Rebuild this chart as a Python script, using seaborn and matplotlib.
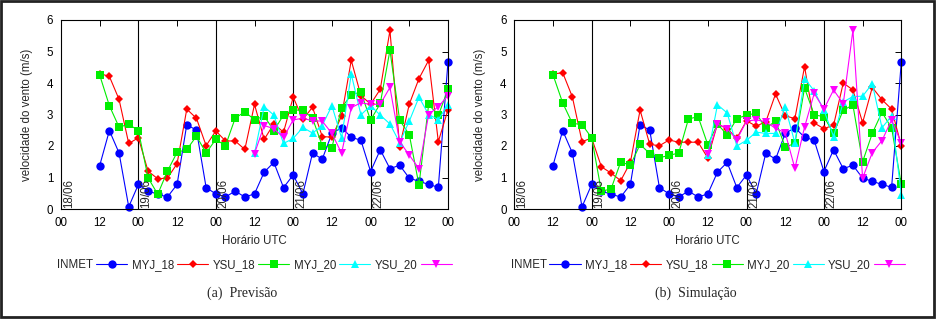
import numpy as np
import pandas as pd
import matplotlib
matplotlib.use('Agg')
import matplotlib.pyplot as plt
from matplotlib.patches import Rectangle
import seaborn as sns

# hours since 18/06 00 UTC, one value every 3 h
hours = list(range(12, 121, 3))
nan = np.nan

# observations (same in both panels)
inmet = [1.38, 2.49, 1.78, 0.07, 0.78, 0.57, 0.47, 0.38, 0.78, 2.68, 2.50, 0.68, 0.48,
         0.38, 0.57, 0.38, 0.48, 1.17, 1.48, 0.68, 1.08, 0.48, 1.78, 1.58, 2.40, 2.58,
         2.28, 2.18, 1.19, 1.88, 1.28, 1.39, 0.98, 0.88, 0.78, 0.69, 4.68]

# (a) Previsao
prev_myj18 = [4.30, 4.21, 3.48, 2.08, 2.26, 1.20, 0.96, 0.98, 1.44, 3.17, 2.88, 2.01, 2.48,
              2.16, 2.16, 1.89, 3.32, 2.21, 2.70, 2.44, 3.55, 2.85, 3.23, 2.30, 2.28, 2.95,
              4.72, 3.60, 3.33, 3.80, 5.67, 1.98, 3.33, 4.14, 4.72, 2.14, 3.15]
prev_ysu18 = [4.25, 3.28, 2.60, 2.69, 2.49, 0.99, 0.47, 1.20, 1.80, 1.89, 2.31, 1.78, 2.21,
              2.01, 2.88, 3.09, 2.83, 2.95, 2.49, 2.98, 3.14, 3.14, 2.88, 2.01, 1.95, 3.21,
              3.63, 3.71, 2.82, 3.35, 5.04, 2.82, 2.36, 0.76, 3.32, 2.97, 3.80]
prev_myj20 = [nan] * 16 + [1.77, 3.25, 2.98, 2.08, 2.24, 2.59, 2.41, 2.65, 3.28, 2.26, 4.28,
                           2.99, 3.28, 2.98, 2.70, 2.11, 2.79, 3.55, 3.00, 2.84, 3.31]
prev_ysu20 = [nan] * 16 + [1.76, 2.65, 2.55, 2.27, 2.83, 2.88, 2.80, 2.79, 2.40, 1.77, 3.22,
                           3.37, 3.32, 3.33, 3.86, 2.14, 1.71, 1.28, 3.00, 3.25, 3.60]

# (b) Simulacao
sim_myj18 = [4.28, 4.33, 3.56, 2.14, 2.25, 1.34, 1.14, 0.90, 1.48, 3.14, 2.05, 2.01, 2.19,
             2.12, 2.12, 2.12, 1.62, 2.70, 2.55, 2.25, 2.80, 2.63, 2.77, 3.65, 2.96, 2.87,
             4.52, 2.73, 2.55, 2.66, 4.00, 3.78, 2.74, 3.86, 3.47, 3.17, 2.01]
sim_ysu18 = [4.26, 3.37, 2.72, 2.68, 2.26, 0.56, 0.64, 1.49, 1.39, 2.05, 1.76, 1.63, 1.70,
             1.78, 2.86, 2.93, 2.04, 2.70, 2.35, 2.87, 2.98, 3.04, 2.56, 2.80, 1.97, 2.08,
             3.84, 2.99, 2.93, 2.40, 3.14, 3.30, 1.50, 2.40, 3.07, 2.57, 0.78]
sim_myj20 = [nan] * 16 + [1.72, 3.31, 3.05, 2.00, 2.18, 2.44, 2.40, 2.40, 3.24, 2.10, 4.14,
                          3.75, 3.14, 2.30, 3.40, 3.57, 3.58, 3.98, 2.58, 2.95, 0.46]
sim_ysu20 = [nan] * 16 + [1.76, 2.70, 2.55, 2.20, 2.79, 2.83, 2.77, 2.56, 2.42, 1.29, 2.60,
                          3.67, 3.17, 3.78, 3.34, 5.68, 0.98, 1.79, 2.17, 2.83, 2.10]

series_names = ['INMET', 'MYJ_18', 'YSU_18', 'MYJ_20', 'YSU_20']
colors = ['#0000ff', '#ff0000', '#00ee00', '#00ffff', '#ff00ff']
markers = ['o', 'D', 's', '^', 'v']
msizes = [6.0, 4.0, 5.6, 6.0, 6.0]

day_labels = ['18/06', '19/06', '20/06', '21/06', '22/06']
day_hours = [0, 24, 48, 72, 96]
xtick_hours = list(range(0, 121, 12))
xtick_labels = ['00', '12'] * 5 + ['00']

sns.set_style('white')
plt.rcParams['font.family'] = ['Liberation Sans', 'DejaVu Sans']
FS = 8.3

fig = plt.figure(figsize=(9.4, 3.21), dpi=100)
W, H = 940, 321


def panel(left_px, data, caption, caption_x):
    ax = fig.add_axes([left_px / W, (H - 209) / H, 387 / W, 189 / H])
    for name, vals, c, m, ms in zip(series_names, data, colors, markers, msizes):
        df = pd.DataFrame({'hora': hours, 'vel': vals}).dropna()
        sns.lineplot(data=df, x='hora', y='vel', ax=ax, color=c, marker=m,
                     markersize=ms, markeredgewidth=0, linewidth=0.8,
                     errorbar=None, label=name, clip_on=False)
    for h in day_hours[1:]:
        ax.axvline(h, color='black', lw=0.8, zorder=0.5)
    for h, lab in zip(day_hours, day_labels):
        ax.text(h + 0.6, 0.03, lab, rotation=90, ha='left', va='bottom', fontsize=FS)
    ax.set_xlim(0, 120)
    ax.set_ylim(0, 6)
    ax.set_xticks(xtick_hours)
    ax.set_xticklabels(xtick_labels)
    ax.set_yticks(range(0, 7))
    ax.tick_params(direction='in', top=True, right=True, length=4, width=0.7,
                   labelsize=FS, pad=5.5, colors='black')
    for s in ax.spines.values():
        s.set_color('black')
        s.set_linewidth(0.8)
    ax.set_xlabel('Horário UTC', fontsize=FS)
    ax.set_ylabel('velocidade do vento (m/s)', fontsize=FS)
    ax.xaxis.set_label_coords(0.5, -0.14)
    ax.yaxis.set_label_coords(-0.072, 0.5)
    handles, labels = ax.get_legend_handles_labels()
    ax.legend(handles, labels, loc='center', bbox_to_anchor=(0.5, -0.296), ncol=5,
              frameon=False, markerfirst=False, fontsize=FS, handlelength=2.7,
              handletextpad=0.25, columnspacing=0.4, borderaxespad=0)
    fig.text(caption_x / W, 1 - 293 / H, caption, ha='center', va='center',
             fontsize=10, family=['Liberation Serif', 'DejaVu Serif'])
    return ax


panel(61, [inmet, prev_myj18, prev_ysu18, prev_myj20, prev_ysu20], '(a)  Previsão', 242)
panel(514.3, [inmet, sim_myj18, sim_ysu18, sim_myj20, sim_ysu20], '(b)  Simulação', 696)

fig.add_artist(Rectangle((1.4 / W, 3.7 / H), 933 / W, 315.9 / H, transform=fig.transFigure,
                         fill=False, edgecolor='#222222', linewidth=2.0))

fig.savefig('out.png', dpi=100)
